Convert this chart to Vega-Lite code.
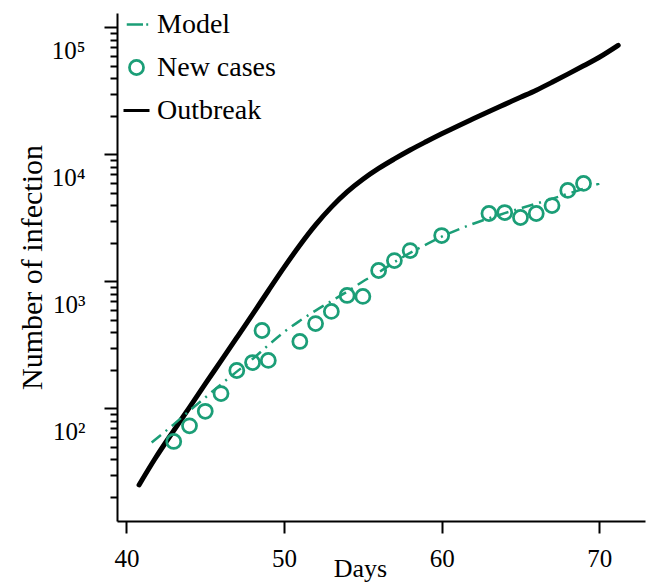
{
  "$schema": "https://vega.github.io/schema/vega-lite/v6.json",
  "width": 528,
  "height": 508,
  "autosize": "none",
  "padding": {"left": 117, "top": 13, "right": 4, "bottom": 66},
  "background": "white",
  "config": {
    "view": {"stroke": null},
    "font": "Liberation Serif",
    "axis": {
      "domainColor": "black",
      "domainWidth": 2,
      "tickColor": "black",
      "tickWidth": 2,
      "labelColor": "black",
      "labelFont": "Liberation Serif",
      "labelFontSize": 25,
      "titleFont": "Liberation Serif",
      "titleFontSize": 27,
      "titleFontWeight": "normal",
      "titleColor": "black",
      "grid": false
    },
    "legend": {
      "labelFont": "Liberation Serif",
      "labelFontSize": 28,
      "labelColor": "black"
    }
  },
  "data": {
    "values": [
      {"series": "Outbreak", "day": 40.8, "value": 25},
      {"series": "Outbreak", "day": 41.8, "value": 40},
      {"series": "Outbreak", "day": 43, "value": 67},
      {"series": "Outbreak", "day": 44, "value": 102},
      {"series": "Outbreak", "day": 45, "value": 156},
      {"series": "Outbreak", "day": 46, "value": 237},
      {"series": "Outbreak", "day": 47, "value": 361},
      {"series": "Outbreak", "day": 48, "value": 551},
      {"series": "Outbreak", "day": 49, "value": 845},
      {"series": "Outbreak", "day": 50, "value": 1290},
      {"series": "Outbreak", "day": 51, "value": 1930},
      {"series": "Outbreak", "day": 52, "value": 2790},
      {"series": "Outbreak", "day": 53, "value": 3850},
      {"series": "Outbreak", "day": 54, "value": 5070},
      {"series": "Outbreak", "day": 55, "value": 6380},
      {"series": "Outbreak", "day": 56, "value": 7760},
      {"series": "Outbreak", "day": 57, "value": 9220},
      {"series": "Outbreak", "day": 58, "value": 10840},
      {"series": "Outbreak", "day": 59, "value": 12590},
      {"series": "Outbreak", "day": 60, "value": 14550},
      {"series": "Outbreak", "day": 61, "value": 16710},
      {"series": "Outbreak", "day": 62, "value": 19100},
      {"series": "Outbreak", "day": 63, "value": 21800},
      {"series": "Outbreak", "day": 64, "value": 24800},
      {"series": "Outbreak", "day": 65, "value": 28200},
      {"series": "Outbreak", "day": 66, "value": 32100},
      {"series": "Outbreak", "day": 67, "value": 37000},
      {"series": "Outbreak", "day": 68, "value": 42900},
      {"series": "Outbreak", "day": 69, "value": 49900},
      {"series": "Outbreak", "day": 70, "value": 58300},
      {"series": "Outbreak", "day": 71.2, "value": 72400},
      {"series": "Model", "day": 41.6, "value": 54},
      {"series": "Model", "day": 43, "value": 75},
      {"series": "Model", "day": 44, "value": 96},
      {"series": "Model", "day": 45, "value": 122},
      {"series": "Model", "day": 46, "value": 155},
      {"series": "Model", "day": 47, "value": 195},
      {"series": "Model", "day": 48, "value": 245},
      {"series": "Model", "day": 49, "value": 315},
      {"series": "Model", "day": 50, "value": 400},
      {"series": "Model", "day": 51, "value": 490},
      {"series": "Model", "day": 52, "value": 590},
      {"series": "Model", "day": 53, "value": 700},
      {"series": "Model", "day": 54, "value": 830},
      {"series": "Model", "day": 55, "value": 1000},
      {"series": "Model", "day": 56, "value": 1180},
      {"series": "Model", "day": 57, "value": 1420},
      {"series": "Model", "day": 58, "value": 1680},
      {"series": "Model", "day": 59, "value": 1950},
      {"series": "Model", "day": 60, "value": 2250},
      {"series": "Model", "day": 62, "value": 2850},
      {"series": "Model", "day": 64, "value": 3450},
      {"series": "Model", "day": 66, "value": 4100},
      {"series": "Model", "day": 68, "value": 4900},
      {"series": "Model", "day": 70, "value": 5900},
      {"series": "New cases", "day": 43, "value": 55},
      {"series": "New cases", "day": 44, "value": 73},
      {"series": "New cases", "day": 45, "value": 95},
      {"series": "New cases", "day": 46, "value": 131},
      {"series": "New cases", "day": 47, "value": 199},
      {"series": "New cases", "day": 48, "value": 230},
      {"series": "New cases", "day": 48.6, "value": 411},
      {"series": "New cases", "day": 49, "value": 239},
      {"series": "New cases", "day": 51, "value": 337},
      {"series": "New cases", "day": 52, "value": 466},
      {"series": "New cases", "day": 53, "value": 581},
      {"series": "New cases", "day": 54, "value": 776},
      {"series": "New cases", "day": 55, "value": 763},
      {"series": "New cases", "day": 56, "value": 1220},
      {"series": "New cases", "day": 57, "value": 1460},
      {"series": "New cases", "day": 58, "value": 1750},
      {"series": "New cases", "day": 60, "value": 2300},
      {"series": "New cases", "day": 63, "value": 3430},
      {"series": "New cases", "day": 64, "value": 3490},
      {"series": "New cases", "day": 65, "value": 3190},
      {"series": "New cases", "day": 66, "value": 3430},
      {"series": "New cases", "day": 67, "value": 3960},
      {"series": "New cases", "day": 68, "value": 5210},
      {"series": "New cases", "day": 69, "value": 5920}
    ]
  },
  "resolve": {"axis": {"y": "independent"}},
  "layer": [
    {
      "transform": [{"filter": "datum.series == 'Outbreak'"}],
      "mark": {"type": "line", "color": "black", "strokeWidth": 5, "strokeCap": "round", "interpolate": "monotone"},
      "encoding": {
        "x": {
          "field": "day", "type": "quantitative",
          "scale": {"domain": [39.4, 72.9], "nice": false, "zero": false},
          "axis": {"values": [40, 50, 60, 70], "tickSize": 12, "labelPadding": 13, "title": "Days", "titleFontSize": 26, "titlePadding": -16, "titleX": 243}
        },
        "y": {
          "field": "value", "type": "quantitative",
          "scale": {"type": "log", "domain": [13, 130000], "nice": false},
          "axis": {
            "orient": "left",
            "values": [100, 1000, 10000, 100000],
            "tickSize": 13,
            "labelPadding": 19,
            "labelOffset": 23,
            "labelExpr": "datum.value == 100 ? '10²' : datum.value == 1000 ? '10³' : datum.value == 10000 ? '10⁴' : '10⁵'",
            "title": "Number of infection",
            "titleFontSize": 30,
            "titlePadding": 4
          }
        }
      }
    },
    {
      "transform": [{"filter": "datum.series == 'Model'"}],
      "mark": {"type": "line", "color": "#1b9e77", "strokeWidth": 2.5, "strokeDash": [12, 6, 2, 6], "interpolate": "monotone"},
      "encoding": {
        "x": {"field": "day", "type": "quantitative"},
        "y": {
          "field": "value", "type": "quantitative",
          "axis": {
            "orient": "left",
            "values": [20, 30, 40, 50, 60, 70, 80, 90, 200, 300, 400, 500, 600, 700, 800, 900, 2000, 3000, 4000, 5000, 6000, 7000, 8000, 9000, 20000, 30000, 40000, 50000, 60000, 70000, 80000, 90000],
            "tickSize": 7,
            "labels": false,
            "domain": false,
            "title": null
          }
        }
      }
    },
    {
      "transform": [{"filter": "datum.series == 'New cases'"}],
      "mark": {"type": "point", "filled": false, "opacity": 1, "size": 676},
      "encoding": {
        "x": {"field": "day", "type": "quantitative"},
        "y": {"field": "value", "type": "quantitative", "axis": null},
        "color": {
          "field": "series", "type": "nominal",
          "scale": {"domain": ["Model", "New cases", "Outbreak"], "range": ["#1b9e77", "#1b9e77", "black"]},
          "legend": {"title": null, "orient": "none", "legendX": 5, "legendY": -3, "padding": 0, "rowPadding": 14, "labelOffset": 6, "symbolSize": 676}
        },
        "shape": {
          "field": "series", "type": "nominal",
          "scale": {
            "domain": ["Model", "New cases", "Outbreak"],
            "range": ["M-0.75,0H0.5M0.75,0H0.9", "M-0.54,0A0.54,0.54 0 1,0 0.54,0A0.54,0.54 0 1,0 -0.54,0Z", "M-1,0H1"]
          }
        },
        "strokeWidth": {
          "field": "series", "type": "nominal",
          "scale": {"domain": ["Model", "New cases", "Outbreak"], "range": [2.5, 3, 5]}
        }
      }
    }
  ]
}
